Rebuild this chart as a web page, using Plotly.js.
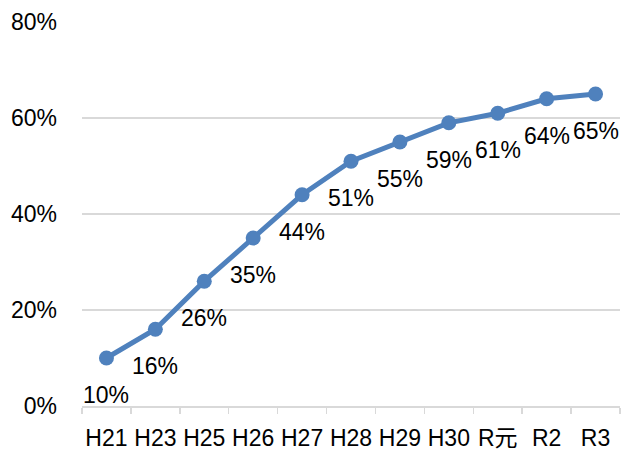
<!DOCTYPE html>
<html>
<head>
<meta charset="utf-8">
<script src="https://cdn.plot.ly/plotly-3.0.1.min.js"></script>
<style>html,body{margin:0;padding:0;background:#fff;}#chart{width:624px;height:452px;}</style>
</head>
<body>
<div id="chart"></div>
<script>
const categories = ["H21","H23","H25","H26","H27","H28","H29","H30","R元","R2","R3"];
const values = [0.10,0.16,0.26,0.35,0.44,0.51,0.55,0.59,0.61,0.64,0.65];
const labels = ["10%","16%","26%","35%","44%","51%","55%","59%","61%","64%","65%"];
const yTicks = [0,0.2,0.4,0.6,0.8];
const yTickLabels = ["0%","20%","40%","60%","80%"];

const font = {family: "'Liberation Sans', Arial, 'Noto Sans CJK JP', sans-serif", size: 23, color: "#000"};

const trace = {
  x: categories, y: values, type: "scatter", mode: "lines+markers",
  line: {color: "#4f81bd", width: 5},
  marker: {color: "#4f81bd", size: 15},
  hoverinfo: "none"
};

const annotations = categories.map((c, i) => ({
  x: c, y: values[i], text: labels[i], showarrow: false,
  yshift: -37, font: font, xanchor: "center", yanchor: "middle"
}));

const layout = {
  width: 624, height: 452,
  margin: {l: 82, r: 4, t: 22, b: 46},
  paper_bgcolor: "#fff", plot_bgcolor: "#fff",
  showlegend: false,
  font: font,
  xaxis: {
    type: "category", tickson: "boundaries", ticks: "outside", ticklen: 6,
    tickcolor: "#d9d9d9", tickwidth: 1.5, showline: true, linecolor: "#d9d9d9", linewidth: 1.5,
    showgrid: false, tickfont: font, ticklabelstandoff: 11, tickangle: 0,
    range: [-0.5, 10.5], fixedrange: true
  },
  yaxis: {
    range: [0, 0.8], tickvals: yTicks, ticktext: yTickLabels,
    showgrid: true, gridcolor: "#d9d9d9", gridwidth: 1.5,
    zeroline: false, showline: false, ticks: "", tickfont: font,
    ticklabelstandoff: 24, fixedrange: true
  },
  annotations: annotations
};

Plotly.newPlot("chart", [trace], layout, {displayModeBar: false, staticPlot: true});
</script>
</body>
</html>
